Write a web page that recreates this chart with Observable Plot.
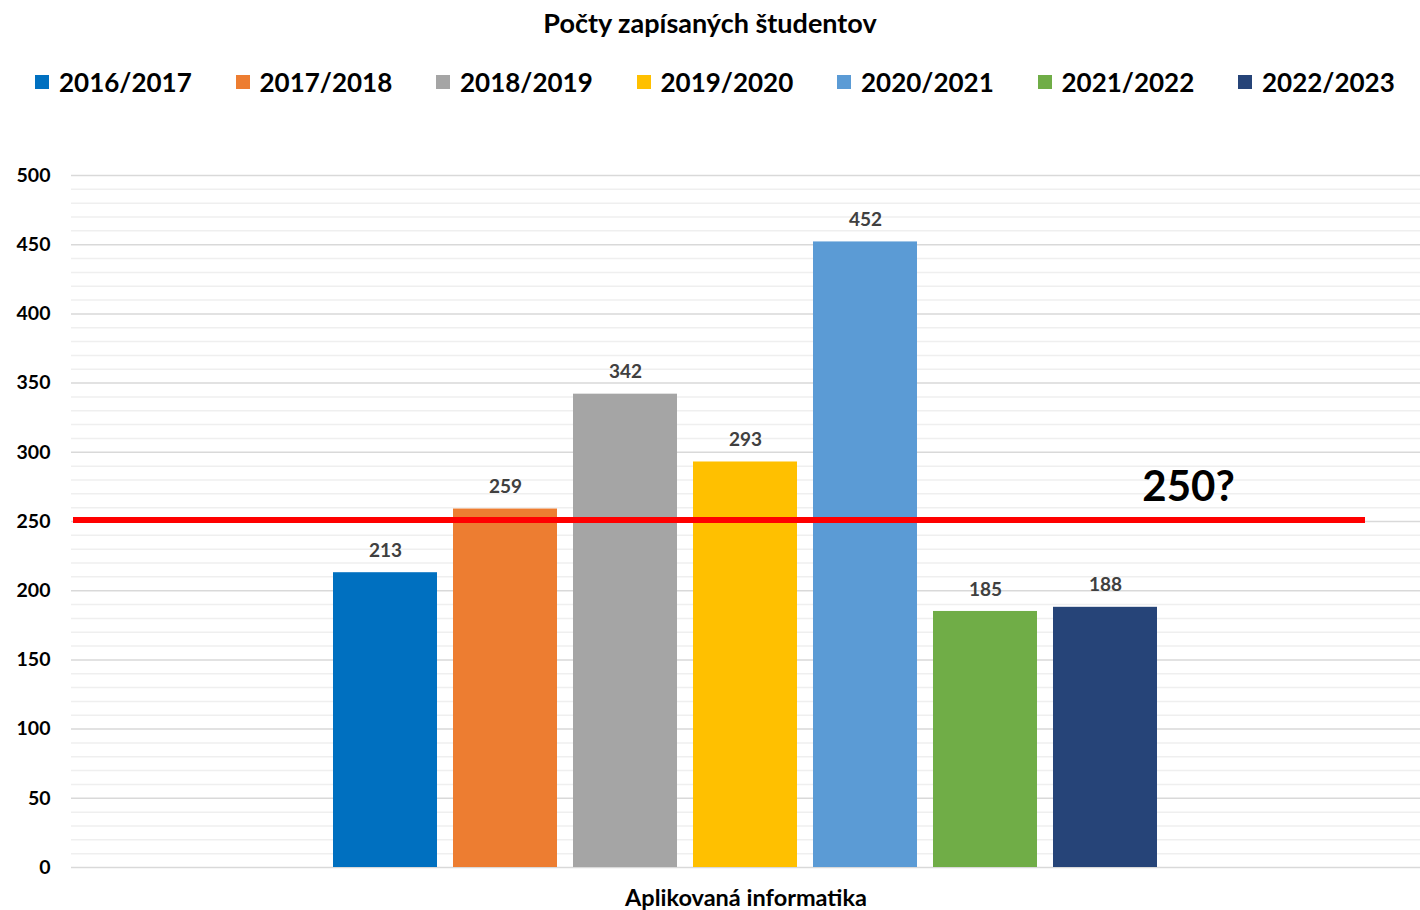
<!DOCTYPE html>
<html><head><meta charset="utf-8">
<script src="https://cdn.jsdelivr.net/npm/d3@7"></script>
<script src="https://cdn.jsdelivr.net/npm/@observablehq/plot@0.6"></script>
<style>
body{margin:0;background:#fff;font-family:Lato,"Open Sans",sans-serif;}
#wrap{width:1420px;height:910px;position:relative;overflow:hidden;}
#title{position:absolute;top:6px;left:0;width:1420px;text-align:center;font-weight:700;font-size:27px;color:#000;}
#legend{position:absolute;top:66px;left:35px;display:flex;}
.item{width:200.5px;display:flex;align-items:center;font-weight:700;font-size:26px;color:#000;}
.sw{width:14px;height:14px;margin-right:10px;}
#chart{position:absolute;top:110px;left:0;}
</style></head>
<body><div id="wrap"><div id="title"></div><div id="legend"></div><div id="chart"></div></div>
<script>
const title = "Počty zapísaných študentov";
const category = "Aplikovaná informatika";
const years = ["2016/2017","2017/2018","2018/2019","2019/2020","2020/2021","2021/2022","2022/2023"];
const students = [213,259,342,293,452,185,188];
const colors = ["#0070C0","#ED7D31","#A5A5A5","#FFC000","#5B9BD5","#70AD47","#264478"];
const majorTicks = [0,50,100,150,200,250,300,350,400,450,500];
const minorTicks = d3.range(0,501,10).filter(v => v % 50 !== 0);
const threshold = [251];
const annotation = [{label:"250?", value:274.5}];

const data = years.map((y,i) => ({year:y, value:students[i], color:colors[i]}));

document.getElementById("title").textContent = title;
const leg = document.getElementById("legend");
years.forEach((y,i) => {
  const it = document.createElement("div"); it.className="item";
  const sw = document.createElement("span"); sw.className="sw"; sw.style.background = colors[i];
  it.appendChild(sw); it.appendChild(document.createTextNode(y)); leg.appendChild(it);
});

const plot = Plot.plot({
  width: 1420, height: 800,
  marginLeft: 71, marginRight: 0, marginTop: 65, marginBottom: 43,
  style: {fontFamily: "Lato, sans-serif", background: "#fff"},
  x: {domain: years, paddingInner: 0.133, paddingOuter: 2.18, axis: null},
  y: {domain: [0,500], axis: null},
  marks: [
    Plot.ruleY(minorTicks, {stroke: "#efefef", strokeWidth: 1.5}),
    Plot.ruleY(majorTicks, {stroke: "#d9d9d9", strokeWidth: 1.5}),
    Plot.axisY({ticks: majorTicks, tickSize: 0, tickPadding: 21, fontSize: 19.5, fontWeight: 700, fill: "#000", label: null}),
    Plot.barY(data, {x: "year", y: "value", fill: "color"}),
    Plot.text(data, {x: "year", y: "value", text: d => String(d.value), dy: -22, fontSize: 19, fontWeight: 700, fill: "#404040"}),
    Plot.ruleY(threshold, {stroke: "#ff0000", strokeWidth: 6, insetLeft: 2, insetRight: 55}),
    Plot.text(annotation, {y: "value", text: "label", frameAnchor: "right", textAnchor: "middle", dx: -232, fontSize: 42, fontWeight: 700, fill: "#000"}),
    Plot.text([category], {text: d => d, frameAnchor: "bottom", dy: 38, fontSize: 23.5, fontWeight: 700, fill: "#000"})
  ]
});
document.getElementById("chart").appendChild(plot);
</script></body></html>
